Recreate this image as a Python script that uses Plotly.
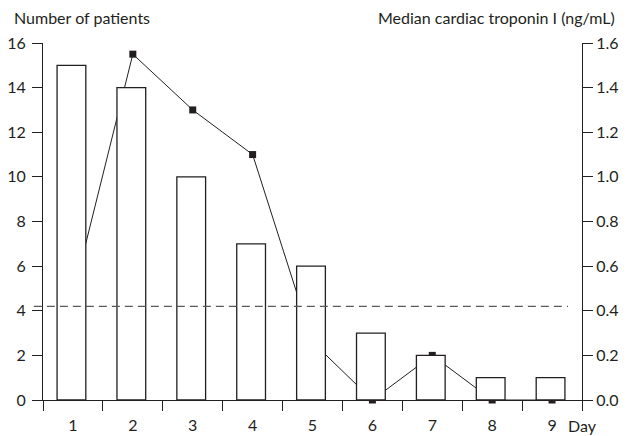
import plotly.graph_objects as go

days = ["1", "2", "3", "4", "5", "6", "7", "8", "9"]
patients = [15, 14, 10, 7, 6, 3, 2, 1, 1]
troponin = [0.47, 1.55, 1.3, 1.1, 0.26, 0.0, 0.2, 0.0, 0.0]
threshold = 0.42
left_ticks = [0, 2, 4, 6, 8, 10, 12, 14, 16]
right_ticks = [0.0, 0.2, 0.4, 0.6, 0.8, 1.0, 1.2, 1.4, 1.6]

INK = "#231f20"
FONT = "Lato"
FS = 16

fig = go.Figure()

# line on primary y (right side) so the bars (overlay axis) are drawn on top
fig.add_trace(go.Scatter(
    x=days, y=troponin, yaxis="y", mode="lines+markers",
    line=dict(color=INK, width=1),
    marker=dict(symbol="square", size=7, color=INK),
    cliponaxis=False, showlegend=False,
))
fig.add_trace(go.Bar(
    x=days, y=patients, yaxis="y2", width=0.48, offset=-0.265,
    marker=dict(color="white", line=dict(color=INK, width=1.3)),
    showlegend=False,
))

axis_common = dict(
    showline=True, linecolor=INK, linewidth=1, ticks="outside",
    tickcolor=INK, ticklen=10, tickwidth=1, showgrid=False, zeroline=False,
    tickfont=dict(family=FONT, size=FS, color=INK), automargin=False,
)

fig.update_layout(
    width=628, height=436,
    margin=dict(l=43, r=46, t=43, b=36),
    paper_bgcolor="white", plot_bgcolor="white",
    font=dict(family=FONT, color=INK),
    xaxis=dict(type="category", range=[-0.5, 8.5], tickson="boundaries",
               ticklabelstandoff=11, **axis_common),
    yaxis=dict(side="right", range=[0, 1.6], tickvals=right_ticks,
               ticktext=[f"{v:.1f}" for v in right_ticks], **axis_common),
    yaxis2=dict(side="left", overlaying="y", range=[0, 16], tickvals=left_ticks,
                ticklabelstandoff=3, **axis_common),
    shapes=[dict(type="line", xref="paper", yref="y", x0=-0.017, x1=0.974,
                 y0=threshold, y1=threshold,
                 line=dict(color="#58595b", width=1.2, dash="8px,5px"))],
    annotations=[
        dict(text="Number of patients", xref="paper", yref="paper", x=-0.058, y=1.0,
             xanchor="left", yanchor="bottom", yshift=14, showarrow=False,
             font=dict(family=FONT, size=FS, color=INK)),
        dict(text="Median cardiac troponin I (ng/mL)", xref="paper", yref="paper",
             x=1.065, y=1.0, xanchor="right", yanchor="bottom", yshift=14,
             showarrow=False, font=dict(family=FONT, size=FS, color=INK)),
        dict(text="Day", xref="paper", yref="paper", x=1.0, y=0.0,
             xanchor="center", yanchor="top", yshift=-14, showarrow=False,
             font=dict(family=FONT, size=FS, color=INK)),
    ],
)

fig.write_html("out.html", config={"displayModeBar": False},
               post_script="document.body.style.margin='0px';")
